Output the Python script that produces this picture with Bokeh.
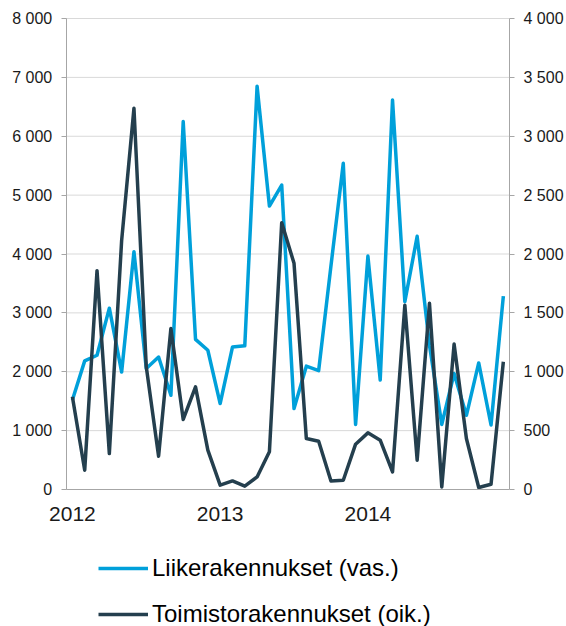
from bokeh.plotting import figure
from bokeh.models import LinearAxis, Range1d, FixedTicker, Legend, LegendItem
from bokeh.embed import file_html
from bokeh.resources import INLINE

# ---- data (monthly, Jan 2012 .. Dec 2014) ----
months = list(range(36))
year_ticks = [0, 12, 24]
year_labels = ["2012", "2013", "2014"]

left_ticks = [0, 1000, 2000, 3000, 4000, 5000, 6000, 7000, 8000]
left_labels = ["0", "1 000", "2 000", "3 000", "4 000", "5 000", "6 000", "7 000", "8 000"]
right_ticks = [0, 500, 1000, 1500, 2000, 2500, 3000, 3500, 4000]
right_labels = ["0", "500", "1 000", "1 500", "2 000", "2 500", "3 000", "3 500", "4 000"]

liike = [1520, 2185, 2280, 3080, 1995, 4040, 2055, 2250, 1600, 6250, 2550, 2365,
         1460, 2420, 2440, 6850, 4815, 5170, 1375, 2095, 2020, 3800, 5540, 1105,
         3965, 1860, 6615, 3190, 4300, 2450, 1105, 1970, 1260, 2150, 1095, 3285]
toimisto = [787, 164, 1858, 305, 2115, 3238, 1042, 283, 1368, 595, 872, 334,
            37, 73, 28, 107, 320, 2266, 1921, 433, 410, 73, 79, 385,
            481, 419, 150, 1565, 249, 1581, 22, 1235, 433, 17, 45, 1085]

series_names = ["Liikerakennukset (vas.)", "Toimistorakennukset (oik.)"]

BLUE = "#00A0DA"
DARK = "#243F4E"
GRID = "#d9d9d9"
AXIS = "#a6a6a6"
FONT = "Liberation Sans"

# The frame covers the canvas except the right axis panel, so that the
# axis labels and the legend (drawn inside the frame) are not clipped.
W, H = 566, 626
PLOT_LEFT, PLOT_RIGHT, PLOT_TOP, PLOT_BOTTOM = 66, 511, 18, 489
x_lo = months[0] - 0.5
x_hi = months[-1] + 0.5
px_per_x = (PLOT_RIGHT - PLOT_LEFT) / (x_hi - x_lo)
x_start = x_lo - PLOT_LEFT / px_per_x

left_max = 8000
right_max = 4000
plot_h = PLOT_BOTTOM - PLOT_TOP
below = (H - PLOT_BOTTOM) / plot_h
above = PLOT_TOP / plot_h
left_min, left_end = -left_max * below, left_max * (1 + above)
right_min, right_end = -right_max * below, right_max * (1 + above)

p = figure(width=W, height=H, output_backend="svg", toolbar_location=None,
           x_range=Range1d(x_start, x_hi), y_range=Range1d(left_min, left_end),
           min_border_left=0, min_border_right=W - PLOT_RIGHT,
           min_border_top=0, min_border_bottom=0)
p.outline_line_color = None
p.extra_y_ranges = {"right": Range1d(right_min, right_end)}

# grid lines, only across the plot area
p.xgrid.visible = False
p.ygrid.visible = False
n = len(left_ticks)
p.segment(x0=[x_lo] * n, x1=[x_hi] * n, y0=left_ticks, y1=left_ticks,
          line_color=GRID, line_width=1)

# left axis (at the left edge of the plot area)
ya = p.yaxis[0]
ya.fixed_location = x_lo
ya.bounds = (0, left_max)
ya.ticker = FixedTicker(ticks=left_ticks)
ya.major_label_overrides = {t: l for t, l in zip(left_ticks, left_labels)}
ya.axis_line_color = AXIS
ya.major_tick_line_color = AXIS
ya.major_tick_out = 5
ya.major_tick_in = 0
ya.minor_tick_line_color = None
ya.major_label_standoff = 9
ya.major_label_text_font = FONT
ya.major_label_text_font_size = "16px"
ya.major_label_text_color = "#1a1a1a"

# right axis
ra = LinearAxis(y_range_name="right")
ra.bounds = (0, right_max)
ra.ticker = FixedTicker(ticks=right_ticks)
ra.major_label_overrides = {t: l for t, l in zip(right_ticks, right_labels)}
ra.axis_line_color = AXIS
ra.major_tick_line_color = AXIS
ra.major_tick_out = 5
ra.major_tick_in = 0
ra.minor_tick_line_color = None
ra.major_label_standoff = 9
ra.major_label_text_font = FONT
ra.major_label_text_font_size = "16px"
ra.major_label_text_color = "#1a1a1a"
p.add_layout(ra, "right")

# x axis drawn at value 0
xa = p.xaxis[0]
xa.fixed_location = 0
xa.bounds = (x_lo, x_hi)
xa.ticker = FixedTicker(ticks=year_ticks)
xa.major_label_overrides = {t: l for t, l in zip(year_ticks, year_labels)}
xa.axis_line_color = AXIS
xa.major_tick_line_color = None
xa.minor_tick_line_color = None
xa.major_label_standoff = 11
xa.major_label_text_font = FONT
xa.major_label_text_font_size = "21px"
xa.major_label_text_color = "#1a1a1a"

r1 = p.line(months, liike, line_color=BLUE, line_width=3.5, line_join="round")
r2 = p.line(months, toimisto, line_color=DARK, line_width=3.5, line_join="round",
            y_range_name="right")

legend = Legend(items=[LegendItem(label=series_names[0], renderers=[r1]),
                       LegendItem(label=series_names[1], renderers=[r2])],
                location=(98, -2), orientation="vertical")
legend.padding = 0
legend.margin = 0
legend.spacing = 18
legend.border_line_color = None
legend.background_fill_alpha = 0
legend.glyph_width = 50
legend.glyph_height = 24
legend.label_height = 24
legend.label_standoff = 4
legend.label_text_font = FONT
legend.label_text_font_size = "24px"
legend.label_text_color = "#000000"
p.add_layout(legend, "center")

open("out.html", "w").write(file_html(p, INLINE))
